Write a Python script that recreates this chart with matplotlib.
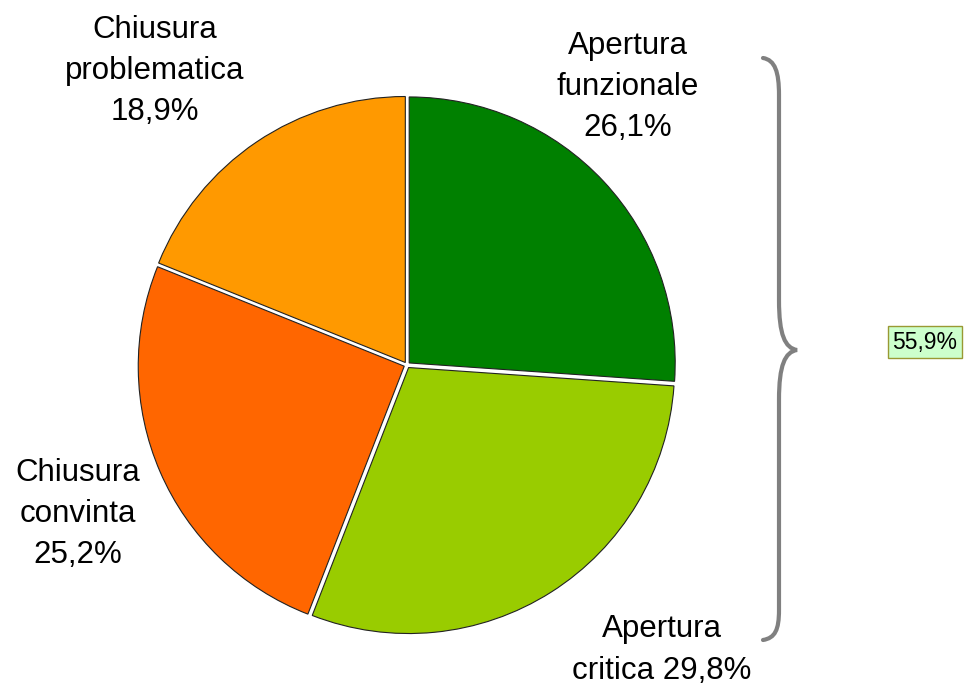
import matplotlib
matplotlib.use("Agg")
import matplotlib.pyplot as plt
from matplotlib.path import Path
import matplotlib.patches as mpatches

plt.rcParams["font.family"] = ["Liberation Sans", "DejaVu Sans"]

# data
categories = ["Apertura\nfunzionale", "Apertura\ncritica", "Chiusura\nconvinta", "Chiusura\nproblematica"]
shares = [26.1, 29.8, 25.2, 18.9]
colors = ["#008000", "#99CC00", "#FF6600", "#FF9900"]
total_apertura = "55,9%"

W, H = 967, 686


def fmt(v):
    return f"{v:.1f}%".replace(".", ",")


fig = plt.figure(figsize=(W / 100, H / 100), dpi=100)
ax = fig.add_axes([0, 0, 1, 1])

# explode is in data units (pixels here)
ax.pie(shares, colors=colors, startangle=90, counterclock=False,
       center=(407, H - 365), radius=266, explode=[3] * 4,
       wedgeprops=dict(edgecolor="#222222", linewidth=0.8))

# label text (pixel coords of text centres, y from top)
label_pos = [(628, 87), (662, 650), (78, 514), (155, 71)]
label_txt = [
    f"Apertura\nfunzionale\n{fmt(shares[0])}",
    f"Apertura\ncritica {fmt(shares[1])}",
    f"Chiusura\nconvinta\n{fmt(shares[2])}",
    f"Chiusura\nproblematica\n{fmt(shares[3])}",
]
for (px, py), txt in zip(label_pos, label_txt):
    ax.text(px, H - py, txt, ha="center", va="center", fontsize=22.5,
            linespacing=1.48, color="black")

# curly brace grouping the two "Apertura" slices
pts = [(763, 58), (775, 60), (779, 72), (779, 95),
       (779, 300),
       (779, 335), (785, 348), (797, 350),
       (785, 352), (779, 365), (779, 400),
       (779, 610),
       (779, 630), (775, 638), (763, 640)]
codes = [Path.MOVETO, Path.CURVE4, Path.CURVE4, Path.CURVE4,
         Path.LINETO,
         Path.CURVE4, Path.CURVE4, Path.CURVE4,
         Path.CURVE4, Path.CURVE4, Path.CURVE4,
         Path.LINETO,
         Path.CURVE4, Path.CURVE4, Path.CURVE4]
brace = Path([(x, H - y) for x, y in pts], codes)
ax.add_patch(mpatches.PathPatch(brace, facecolor="none", edgecolor="#808080",
                                linewidth=3, capstyle="round"))

ax.text(925, H - 342, total_apertura, ha="center", va="center", fontsize=16.5,
        bbox=dict(boxstyle="square,pad=0.2", facecolor="#CCFFCC",
                  edgecolor="#999933", linewidth=1))

ax.set_xlim(0, W)
ax.set_ylim(0, H)
ax.set_aspect("equal")
ax.axis("off")

fig.savefig("out.png", dpi=100)
